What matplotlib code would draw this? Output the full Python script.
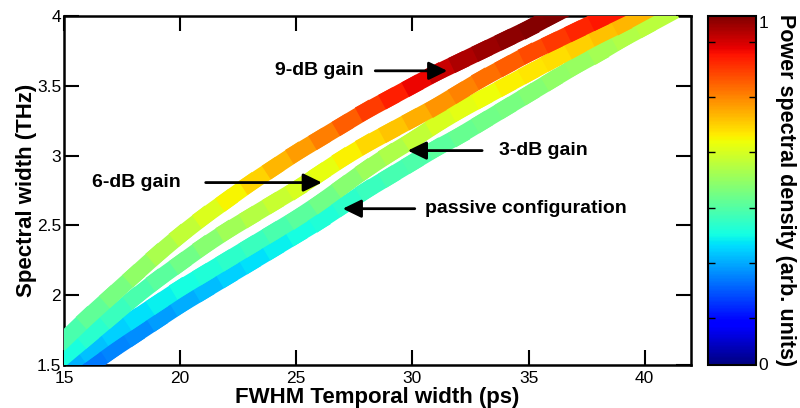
import numpy as np
import matplotlib
matplotlib.use("Agg")
import matplotlib.pyplot as plt
from matplotlib.collections import LineCollection
from matplotlib import cm, colors as mcolors

plt.rcParams['font.family'] = ['Liberation Sans', 'DejaVu Sans']

# ---- data ----
x_9db = [15, 16, 17, 18, 19, 20, 21, 22, 23, 24, 25, 26, 27, 28, 29, 30, 31, 32, 33, 34, 35, 36, 36.6]
y_9db = [1.68, 1.84, 1.99, 2.14, 2.29, 2.43, 2.56, 2.68, 2.80, 2.91, 3.02, 3.12, 3.22, 3.32, 3.41, 3.50, 3.59, 3.67, 3.75, 3.83, 3.91, 4.00, 4.05]
c_9db = [0.43, 0.45, 0.48, 0.51, 0.54, 0.57, 0.60, 0.63, 0.67, 0.70, 0.73, 0.76, 0.79, 0.83, 0.86, 0.89, 0.92, 0.95, 0.97, 0.98, 0.99, 1.0, 1.0]

x_6db = [15, 16, 17, 18, 19, 20, 21, 22, 23, 24, 25, 26, 27, 28, 29, 30, 31, 32, 33, 34, 35, 36, 37, 38, 39]
y_6db = [1.56, 1.70, 1.84, 1.98, 2.11, 2.23, 2.35, 2.46, 2.56, 2.66, 2.76, 2.87, 2.98, 3.08, 3.17, 3.26, 3.35, 3.45, 3.55, 3.64, 3.73, 3.81, 3.89, 3.97, 4.05]
c_6db = [0.37, 0.39, 0.41, 0.43, 0.45, 0.47, 0.50, 0.53, 0.56, 0.58, 0.60, 0.62, 0.64, 0.67, 0.69, 0.71, 0.74, 0.76, 0.78, 0.80, 0.82, 0.84, 0.86, 0.88, 0.89]

x_3db = [15, 16, 17, 18, 19, 20, 21, 22, 23, 24, 25, 26, 27, 28, 29, 30, 31, 32, 33, 34, 35, 36, 37, 38, 39, 40]
y_3db = [1.48, 1.60, 1.72, 1.83, 1.94, 2.05, 2.15, 2.25, 2.35, 2.45, 2.55, 2.66, 2.78, 2.90, 3.01, 3.11, 3.22, 3.32, 3.41, 3.50, 3.59, 3.68, 3.77, 3.86, 3.94, 4.03]
c_3db = [0.29, 0.31, 0.32, 0.34, 0.35, 0.37, 0.38, 0.40, 0.41, 0.43, 0.45, 0.47, 0.50, 0.53, 0.55, 0.57, 0.60, 0.62, 0.63, 0.65, 0.66, 0.67, 0.68, 0.70, 0.71, 0.72]

x_pas = [16, 17, 18, 19, 20, 21, 22, 23, 24, 25, 26, 27, 28, 29, 30, 31, 32, 33, 34, 35, 36, 37, 38, 39, 40, 41]
y_pas = [1.48, 1.60, 1.71, 1.82, 1.93, 2.03, 2.13, 2.23, 2.33, 2.43, 2.53, 2.64, 2.75, 2.85, 2.95, 3.05, 3.14, 3.24, 3.34, 3.44, 3.54, 3.64, 3.73, 3.83, 3.92, 4.01]
c_pas = [0.24, 0.25, 0.26, 0.27, 0.29, 0.30, 0.32, 0.34, 0.35, 0.37, 0.38, 0.40, 0.41, 0.43, 0.44, 0.45, 0.47, 0.48, 0.49, 0.50, 0.52, 0.53, 0.54, 0.56, 0.57, 0.58]

x_ticks = [15, 20, 25, 30, 35, 40]
y_ticks = [1.5, 2, 2.5, 3, 3.5, 4]
y_ticklabels = ['1.5', '2', '2.5', '3', '3.5', '4']

labels = ['9-dB gain', '6-dB gain', '3-dB gain', 'passive configuration']
label_xy = [(26.0, 3.607), (18.1, 2.807), (35.65, 3.036), (34.9, 2.62)]
arrow_tail = [(28.4, 3.607), (21.1, 2.807), (33.0, 3.036), (30.1, 2.62)]
arrow_tip = [(31.5, 3.607), (26.1, 2.807), (29.8, 3.036), (27.0, 2.62)]

cbar_minor = [0.135, 0.292, 0.450, 0.610, 0.768, 0.926]

# ---- figure ----
fig = plt.figure(figsize=(8, 4.08), dpi=100)
ax = fig.add_axes([0.08, 0.105, 0.784, 0.856])
cax = fig.add_axes([0.885, 0.105, 0.06, 0.856])

cmap = matplotlib.colormaps['jet']
norm = mcolors.Normalize(0, 1)

LW = 11.8
for xs, ys, cs in [(x_pas, y_pas, c_pas), (x_3db, y_3db, c_3db),
                   (x_6db, y_6db, c_6db), (x_9db, y_9db, c_9db)]:
    xs = np.asarray(xs, float); ys = np.asarray(ys, float); cs = np.asarray(cs, float)
    ax.plot(xs, ys, color='white', lw=LW + 2.2, solid_capstyle='butt',
            solid_joinstyle='round', zorder=2)
    pts = np.column_stack([xs, ys])
    segs = np.stack([pts[:-1], pts[1:]], axis=1)
    segc = cmap(norm(0.5 * (cs[:-1] + cs[1:])))
    lc = LineCollection(segs, colors=segc, linewidths=LW, capstyle='projecting',
                        joinstyle='round', zorder=3)
    ax.add_collection(lc)

for lab, (tx, ty), tail, tip in zip(labels, label_xy, arrow_tail, arrow_tip):
    ax.text(tx, ty, lab, ha='center', va='center', fontsize=14, fontweight='bold', zorder=5)
    ax.annotate('', xy=tip, xytext=tail,
                arrowprops=dict(arrowstyle='-|>,head_length=0.45,head_width=0.22',
                                lw=2, color='black', mutation_scale=25,
                                shrinkA=0, shrinkB=0), zorder=5)

ax.set_xlim(15, 42)
ax.set_ylim(1.5, 4)
ax.set_xticks(x_ticks)
ax.set_xticklabels([str(t) for t in x_ticks])
ax.set_yticks(y_ticks)
ax.set_yticklabels(y_ticklabels)
ax.tick_params(direction='in', length=11, width=1.5, top=True, right=True,
               labelsize=12.5)
ax.tick_params(axis='x', pad=4)
ax.tick_params(axis='y', pad=2)
for s in ax.spines.values():
    s.set_linewidth(1.8)
ax.set_xlabel('FWHM Temporal width (ps)', fontsize=16, fontweight='bold', labelpad=1)
ax.set_ylabel('Spectral width (THz)', fontsize=16, fontweight='bold', labelpad=0)

sm = cm.ScalarMappable(norm=norm, cmap=cmap)
cb = fig.colorbar(sm, cax=cax)
cb.set_ticks(cbar_minor)
cb.set_ticklabels([])
cax.tick_params(direction='in', length=5, width=1, left=True, right=True)
cb.outline.set_linewidth(1.5)
cax.text(1.05, 1.0, '1', transform=cax.transAxes, ha='left', va='top', fontsize=12.5)
cax.text(1.05, 0.0, '0', transform=cax.transAxes, ha='left', va='center', fontsize=12.5)
cax.text(1.62, 0.5, 'Power spectral density (arb. units)', transform=cax.transAxes,
         rotation=-90, ha='center', va='center', fontsize=15.5, fontweight='bold')

fig.savefig('out.png', dpi=100)
